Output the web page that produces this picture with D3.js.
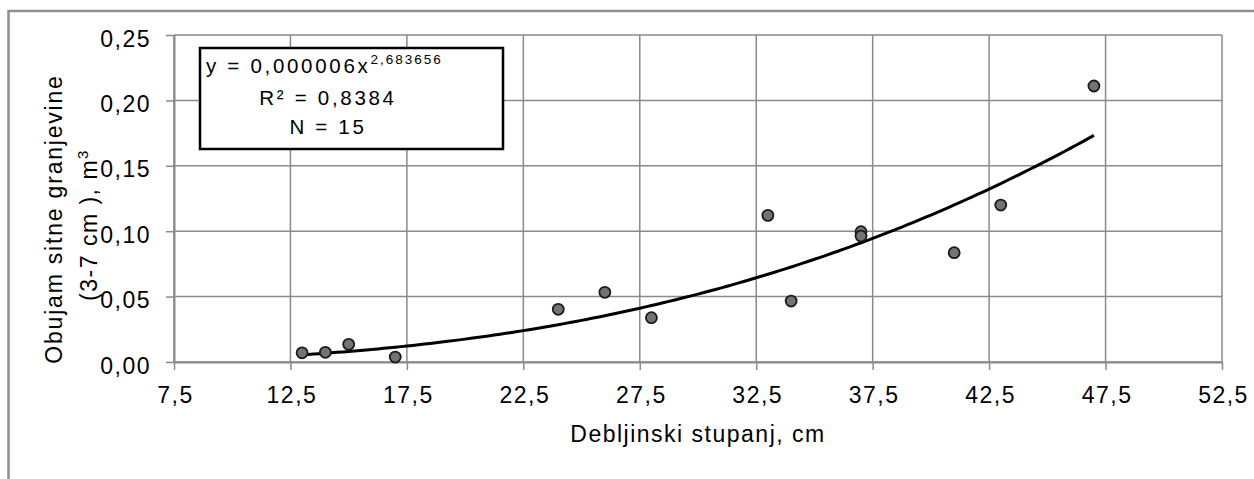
<!DOCTYPE html>
<html>
<head>
<meta charset="utf-8">
<script src="https://cdn.jsdelivr.net/npm/d3@7"></script>
<style>
  body { margin: 0; background: #fff; }
  text { font-family: "Liberation Sans", Arial, sans-serif; fill: #000; }
</style>
</head>
<body>
<svg id="chart" width="1254" height="479"></svg>
<script>
// Diameter class (cm) and small-branch volume (m3) per sample tree
const diameter = [13, 14, 15, 17, 24, 26, 28, 33, 34, 37, 37, 41, 43, 47];
const volume   = [0.0070, 0.0074, 0.0135, 0.0038, 0.0403, 0.0533, 0.0339,
                  0.1121, 0.0466, 0.0996, 0.0963, 0.0836, 0.1200, 0.2110];

const xTicks = [7.5, 12.5, 17.5, 22.5, 27.5, 32.5, 37.5, 42.5, 47.5, 52.5];
const yTicks = [0, 0.05, 0.10, 0.15, 0.20, 0.25];

// Power regression y = a * x^b
const fitCoef = 0.00000564;
const fitExp = 2.683656;
const rSquared = 0.8384;
const sampleSize = 15;

const xTitle = "Debljinski stupanj, cm";
const yTitle1 = "Obujam  sitne granjevine";
const yTitle2 = "(3-7 cm ), m";

const locale = d3.formatLocale({ decimal: ",", thousands: ".", grouping: [3], currency: ["", ""] });
const fx = locale.format(".1f");
const fy = locale.format(".2f");

const svg = d3.select("#chart");
const plotLeft = 174, plotRight = 1222, plotTop = 35, plotBottom = 362;
const x = d3.scaleLinear().domain([7.5, 52.5]).range([plotLeft, plotRight]);
const y = d3.scaleLinear().domain([0, 0.25]).range([plotBottom, plotTop]);

const gridColor = "#8a8a8a";
const labelFont = "23px", labelSpacing = "1.5px";

// outer frame (top and left edges)
svg.append("path")
  .attr("d", `M8.5,479 L8.5,11 L1254,11`)
  .attr("fill", "none").attr("stroke", "#8e8e8e").attr("stroke-width", 2.5);

// grid
const grid = svg.append("g");
grid.selectAll("line.v").data(xTicks).join("line")
  .attr("x1", d => x(d)).attr("x2", d => x(d))
  .attr("y1", y(0.25)).attr("y2", y(0))
  .attr("stroke", gridColor).attr("stroke-width", 1.5);
grid.selectAll("line.h").data(yTicks).join("line")
  .attr("x1", x(7.5)).attr("x2", x(52.5))
  .attr("y1", d => y(d)).attr("y2", d => y(d))
  .attr("stroke", gridColor).attr("stroke-width", 1.5);

// axes
const xAxis = svg.append("g").attr("transform", `translate(0,${plotBottom})`)
  .call(d3.axisBottom(x).tickValues(xTicks).tickFormat(fx).tickSize(8).tickSizeOuter(0));
const yAxis = svg.append("g").attr("transform", `translate(${plotLeft},0)`)
  .call(d3.axisLeft(y).tickValues(yTicks).tickFormat(fy).tickSize(8).tickSizeOuter(0));

[xAxis, yAxis].forEach(g => {
  g.attr("font-family", null).attr("font-size", null);
  g.select(".domain").attr("stroke", gridColor).attr("stroke-width", 2);
  g.selectAll(".tick line").attr("stroke", gridColor).attr("stroke-width", 1.5);
  g.selectAll("text").style("font-size", labelFont).style("letter-spacing", labelSpacing)
    .attr("fill", "#000");
});
xAxis.selectAll(".tick text").attr("y", 41).attr("dy", null).attr("dx", 1);
yAxis.selectAll(".tick text").attr("x", -23).attr("dy", null).attr("y", 11);

// axis titles
svg.append("text")
  .attr("x", (plotLeft + plotRight) / 2).attr("y", 442)
  .attr("text-anchor", "middle")
  .style("font-size", labelFont).style("letter-spacing", labelSpacing)
  .text(xTitle);

svg.append("text")
  .attr("transform", "translate(62,219) rotate(-90)")
  .attr("text-anchor", "middle")
  .style("font-size", labelFont).style("letter-spacing", "1.8px")
  .text(yTitle1);

const yt2 = svg.append("text")
  .attr("transform", "translate(97,225) rotate(-90)")
  .attr("text-anchor", "middle")
  .style("font-size", labelFont).style("letter-spacing", labelSpacing);
yt2.append("tspan").text(yTitle2);
yt2.append("tspan").attr("dy", -9).style("font-size", "15px").text("3");

// regression curve
const curveX = d3.range(d3.min(diameter), d3.max(diameter) + 0.001, 0.25);
svg.append("path")
  .datum(curveX)
  .attr("fill", "none").attr("stroke", "#000").attr("stroke-width", 3)
  .attr("d", d3.line().x(d => x(d)).y(d => y(fitCoef * Math.pow(d, fitExp))));

// observations
svg.append("g").selectAll("circle")
  .data(diameter.map((d, i) => [d, volume[i]]))
  .join("circle")
  .attr("cx", d => x(d[0])).attr("cy", d => y(d[1])).attr("r", 5.5)
  .attr("fill", "#737373").attr("stroke", "#1a1a1a").attr("stroke-width", 1.8);

// equation box
svg.append("rect")
  .attr("x", 200).attr("y", 48).attr("width", 303).attr("height", 101)
  .attr("fill", "#fff").attr("stroke", "#000").attr("stroke-width", 2.5);

const fmtCoef = locale.format(".6f");
const fmtExp = locale.format(".6f");
const fmtR = locale.format(".4f");
const boxFont = "20.5px", boxSpacing = "2.7px";
const eq = svg.append("text").attr("x", 206).attr("y", 73)
  .style("font-size", boxFont).style("letter-spacing", boxSpacing);
eq.append("tspan").text(`y = ${fmtCoef(fitCoef)}x`);
eq.append("tspan").attr("dy", -9).style("font-size", "13.5px").style("letter-spacing", "2px").text(fmtExp(fitExp));

svg.append("text").attr("x", 328).attr("y", 105).attr("text-anchor", "middle")
  .style("font-size", boxFont).style("letter-spacing", boxSpacing)
  .text(`R² = ${fmtR(rSquared)}`);
svg.append("text").attr("x", 328).attr("y", 134).attr("text-anchor", "middle")
  .style("font-size", boxFont).style("letter-spacing", boxSpacing)
  .text(`N = ${sampleSize}`);
</script>
</body>
</html>
